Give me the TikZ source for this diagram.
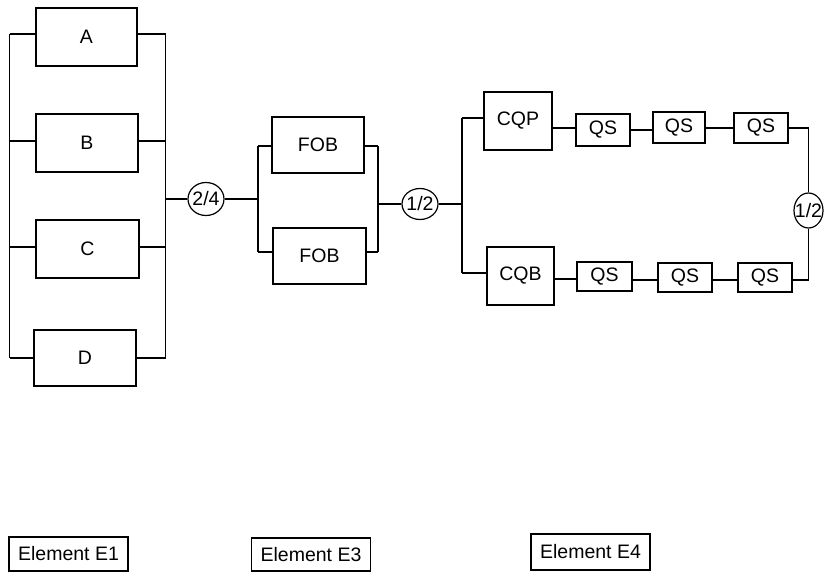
\documentclass[tikz,border=0pt]{standalone}
\usepackage{fontspec}
\setmainfont{Liberation Sans}
\usetikzlibrary{shapes.geometric}
\begin{document}
\begin{tikzpicture}[x=1pt,y=-1pt,line width=1.2pt,
  blk/.style={draw,rectangle,inner sep=0pt,font=\fontsize{19.5}{22}\selectfont},
  vote/.style={draw,ellipse,inner sep=0pt,font=\fontsize{19.5}{22}\selectfont},
  lbl/.style={draw,rectangle,inner sep=0pt,minimum width=119pt,font=\fontsize{19.5}{22}\selectfont}]
\useasboundingbox (0,0) rectangle (825,572);
% Element E1
\node[blk,minimum width=101pt,minimum height=58pt] (A) at (86.5,37) {A};
\node[blk,minimum width=102pt,minimum height=58pt] (B) at (87,143) {B};
\node[blk,minimum width=103pt,minimum height=58pt] (C) at (87.5,249) {C};
\node[blk,minimum width=102pt,minimum height=56pt] (D) at (85,358) {D};
\coordinate (L1) at (9.5,34);
\coordinate (L4) at (9.5,358);
\coordinate (R1) at (165.5,34);
\coordinate (R4) at (165.5,358);
\draw (L1) -- (L4);
\draw (R1) -- (R4);
\draw (L1) -- (L1 -| A.west);
\draw (L1 |- 0,141) -- (B.west |- 0,141);
\draw (L1 |- 0,247) -- (C.west |- 0,247);
\draw (L4) -- (L4 -| D.west);
\draw (R1) -- (R1 -| A.east);
\draw (R1 |- 0,141) -- (B.east |- 0,141);
\draw (R1 |- 0,247) -- (C.east |- 0,247);
\draw (R4) -- (R4 -| D.east);
\node[vote,minimum width=36pt,minimum height=33pt] (v1) at (206,199) {\makebox[0pt]{2/4}};
\draw (R1 |- v1) -- (v1.west);
% Element E3
\node[blk,minimum width=92pt,minimum height=56pt] (F1) at (318,145) {FOB};
\node[blk,minimum width=93pt,minimum height=56pt] (F2) at (319.5,256) {FOB};
\coordinate (FL1) at (258,146);
\coordinate (FL2) at (258,252);
\coordinate (FR1) at (378,146);
\coordinate (FR2) at (378,252);
\draw (v1.east) -- (v1.east -| FL1);
\draw (FL1) -- (FL2);
\draw (FR1) -- (FR2);
\draw (FL1) -- (FL1 -| F1.west);
\draw (FL2) -- (FL2 -| F2.west);
\draw (FR1) -- (FR1 -| F1.east);
\draw (FR2) -- (FR2 -| F2.east);
\node[vote,minimum width=36pt,minimum height=31pt] (v2) at (420,204) {\makebox[0pt]{1/2}};
\draw (FR1 |- v2) -- (v2.west);
% Element E4
\node[blk,minimum width=68pt,minimum height=58pt] (CQP) at (518,121) {CQP};
\node[blk,minimum width=67pt,minimum height=58pt] (CQB) at (520.5,276) {CQB};
\coordinate (G1) at (462,118);
\coordinate (G2) at (462,273);
\draw (v2.east) -- (v2.east -| G1);
\draw (G1) -- (G2);
\draw (G1) -- (G1 -| CQP.west);
\draw (G2) -- (G2 -| CQB.west);
\node[blk,minimum width=54pt,minimum height=32pt] (Q1) at (603,130) {QS};
\node[blk,minimum width=52pt,minimum height=31pt] (Q2) at (679,127.5) {QS};
\node[blk,minimum width=54pt,minimum height=30pt] (Q3) at (761,128) {QS};
\node[blk,minimum width=55pt,minimum height=29pt] (Q4) at (604.5,276.5) {QS};
\node[blk,minimum width=54pt,minimum height=29pt] (Q5) at (685,277.5) {QS};
\node[blk,minimum width=54pt,minimum height=29pt] (Q6) at (765,277.5) {QS};
\draw (CQP.east |- 0,128) -- (Q1.west |- 0,128);
\draw (Q1.east |- 0,130) -- (Q2.west |- 0,130);
\draw (Q2.east |- 0,128) -- (Q3.west |- 0,128);
\draw (CQB.east |- 0,279) -- (Q4.west |- 0,279);
\draw (Q4.east |- 0,280) -- (Q5.west |- 0,280);
\draw (Q5.east |- 0,280) -- (Q6.west |- 0,280);
\node[vote,minimum width=29pt,minimum height=35pt] (v3) at (808.5,210.5) {\makebox[0pt]{1/2}};
\draw (Q3.east) -- (Q3.east -| v3) -- (v3.north);
\draw (v3.south) -- (v3 |- 0,280) -- (Q6.east |- 0,280);
% labels
\node[lbl,minimum height=34pt] (E1) at (68.5,554) {Element E1};
\node[lbl,minimum height=33pt] (E3) at (311,554.5) {Element E3};
\node[lbl,minimum height=36pt] (E4) at (590.5,552) {Element E4};
\end{tikzpicture}
\end{document}
